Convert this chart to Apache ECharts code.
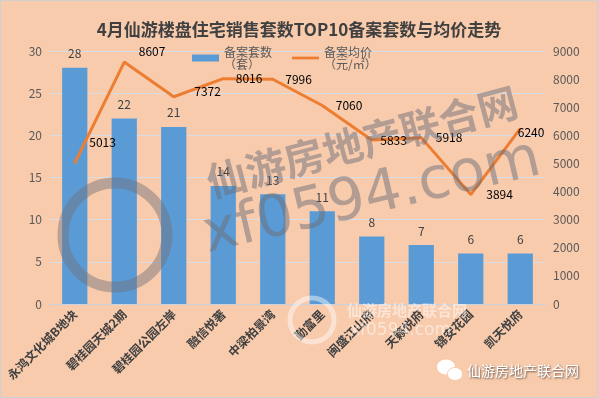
<!DOCTYPE html>
<html>
<head>
    <meta charset="utf-8">
    <title>仙游楼盘备案套数与均价</title>
    <script src="https://cdn.jsdelivr.net/npm/echarts@6/dist/echarts.min.js"></script>
    <style>
        html, body { margin: 0; padding: 0; background: #F8CBAD; }
    </style>
</head>
<body>
    <div id="main" style="width: 598px;height:398px;"></div>
    <script type="text/javascript">
        // 数据
        var categories = ['永鸿文化城B地块', '碧桂园天城2期', '碧桂园公园左岸', '融信悦著', '中梁柏景湾',
                          '勤富里', '闽盛江山府', '天籁悦府', '锦安花园', '凯天悦府'];
        var counts = [28, 22, 21, 14, 13, 11, 8, 7, 6, 6];
        var prices = [5013, 8607, 7372, 8016, 7996, 7060, 5833, 5918, 3894, 6240];
        // 均价标签微调 (dx, dy)
        var priceLabelOffsets = [[4, -21], [4, -11], [10, -5], [2, 0], [2, 0],
                                 [3, 0], [-2, 0], [4, 0], [5, 0], [-13, 4]];

        var myChart = echarts.init(document.getElementById('main'));

        var font = "'Noto Sans CJK SC', 'Microsoft YaHei', sans-serif";

        var option = {
            backgroundColor: '#F8CBAD',
            textStyle: { fontFamily: font },
            title: {
                text: '4月仙游楼盘住宅销售套数TOP10备案套数与均价走势',
                left: 'center',
                top: 16,
                textStyle: { fontSize: 17, fontWeight: 'bold', color: '#404040', fontFamily: font }
            },
            legend: {
                left: 187,
                top: 34,
                itemGap: 20,
                itemWidth: 27,
                itemHeight: 7,
                data: [
                    { name: '备案套数（套）', icon: 'rect' },
                    { name: '备案均价（元/㎡）', icon: 'path://M0,0 L30,0 L30,3 L0,3 Z' }
                ],
                formatter: function (name) {
                    return name.replace('（', '\n（');
                },
                textStyle: { color: '#595959', fontSize: 12, lineHeight: 12, padding: [14, 0, 0, 0] }
            },
            grid: { left: 50, right: 53, top: 51, bottom: 94 },
            xAxis: {
                type: 'category',
                data: categories,
                axisTick: { show: false },
                axisLine: { lineStyle: { color: '#C9D3E0' } },
                axisLabel: {
                    rotate: 45,
                    interval: 0,
                    margin: 8,
                    color: '#404040',
                    fontSize: 12,
                    fontWeight: 'bold'
                }
            },
            yAxis: [
                {
                    type: 'value',
                    min: 0, max: 30, interval: 5,
                    axisLine: { show: false },
                    axisTick: { show: false },
                    axisLabel: { color: '#595959', fontSize: 12, margin: 8 },
                    splitLine: { lineStyle: { color: '#D9DDE5' } }
                },
                {
                    type: 'value',
                    min: 0, max: 9000, interval: 1000,
                    axisLine: { show: false },
                    axisTick: { show: false },
                    axisLabel: { color: '#595959', fontSize: 12, margin: 8,
                                 formatter: function (v) { return String(v); } },
                    splitLine: { show: false }
                }
            ],
            series: [
                {
                    name: '备案套数（套）',
                    type: 'bar',
                    data: counts,
                    barWidth: '51%',
                    itemStyle: { color: '#5B9BD5' },
                    label: { show: true, position: 'top', distance: 8, color: '#404040', fontSize: 12 }
                },
                {
                    name: '备案均价（元/㎡）',
                    type: 'line',
                    yAxisIndex: 1,
                    data: prices,
                    symbol: 'circle',
                    symbolSize: 1,
                    showSymbol: true,
                    lineStyle: { color: '#ED7D31', width: 3 },
                    itemStyle: { color: '#ED7D31' },
                    label: { show: true, position: 'right', distance: 10, color: '#000000', fontSize: 12 },
                    labelLayout: function (params) {
                        var o = priceLabelOffsets[params.dataIndex] || [0, 0];
                        return { dx: o[0], dy: o[1], hideOverlap: false };
                    },
                    z: 3
                }
            ],
            graphic: [
                // 边框
                { type: 'rect', shape: { x: 0.5, y: 0.5, width: 597, height: 397 },
                  style: { fill: 'none', stroke: '#D0D0D0', lineWidth: 1 }, silent: true, z: 100 },
                // 水印 logo
                { type: 'circle', shape: { cx: 115, cy: 235, r: 52 },
                  style: { fill: 'none', stroke: 'rgba(110,110,120,0.45)', lineWidth: 11 }, silent: true, z: 50 },
                // 水印文字
                { type: 'text', x: 362, y: 142, rotation: 0.26, silent: true, z: 50,
                  style: { text: '仙游房地产联合网', fontSize: 40, fontWeight: 'bold', fontFamily: font,
                           fill: 'rgba(110,110,120,0.5)', align: 'center', verticalAlign: 'middle' } },
                { type: 'text', x: 372, y: 198, rotation: 0.23, silent: true, z: 50,
                  style: { text: 'xf0594.com', fontSize: 58, fontFamily: "'DejaVu Sans', sans-serif",
                           fill: 'rgba(110,110,120,0.5)', align: 'center', verticalAlign: 'middle' } },
                // 底部淡色水印
                { type: 'circle', shape: { cx: 312, cy: 320, r: 22 },
                  style: { fill: 'none', stroke: 'rgba(255,255,255,0.45)', lineWidth: 5 }, silent: true, z: 50 },
                { type: 'text', x: 347, y: 310, silent: true, z: 50,
                  style: { text: '仙游房地产联合网', fontSize: 15, fontWeight: 'bold', fontFamily: font,
                           fill: 'rgba(255,255,255,0.5)', verticalAlign: 'middle' } },
                { type: 'text', x: 350, y: 331, silent: true, z: 50,
                  style: { text: 'xf0594.com', fontSize: 17, fontFamily: "'DejaVu Sans', sans-serif",
                           fill: 'rgba(255,255,255,0.5)', verticalAlign: 'middle' } },
                // 微信图标 + 名称
                { type: 'ellipse', shape: { cx: 446, cy: 367, rx: 9, ry: 7.5 },
                  style: { fill: '#FFFFFF' }, silent: true, z: 60 },
                { type: 'ellipse', shape: { cx: 455, cy: 374, rx: 7.5, ry: 6.5 },
                  style: { fill: '#FFFFFF', stroke: '#F8CBAD', lineWidth: 1 }, silent: true, z: 61 },
                { type: 'text', x: 467, y: 371, silent: true, z: 60,
                  style: { text: '仙游房地产联合网', fontSize: 14, fontFamily: font, fill: '#FFFFFF',
                           verticalAlign: 'middle', textShadowColor: 'rgba(0,0,0,0.6)', textShadowBlur: 2,
                           textShadowOffsetX: 1, textShadowOffsetY: 1 } }
            ]
        };

        myChart.setOption(option);
    </script>
</body>
</html>
